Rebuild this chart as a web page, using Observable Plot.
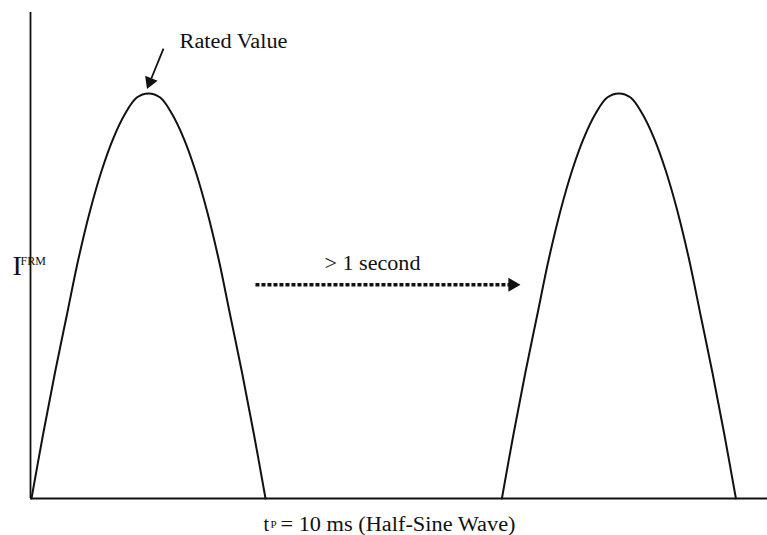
<!DOCTYPE html>
<html>
<head>
<meta charset="utf-8">
<script src="https://cdn.jsdelivr.net/npm/d3@7"></script>
<script src="https://cdn.jsdelivr.net/npm/@observablehq/plot@0.6"></script>
<style>
  html, body { margin: 0; padding: 0; background: #fff; }
  #chart { width: 767px; height: 535px; }
</style>
</head>
<body>
<div id="chart"></div>
<script>
// Time within one pulse (ms) and current relative to the rated value
const pulseTime = [0, 0.5, 1, 1.5, 2, 2.5, 3, 3.5, 4, 4.5, 5, 5.5, 6, 6.5, 7, 7.5, 8, 8.5, 9, 9.5, 10];
const pulseCurrent = [0, 0.16, 0.31, 0.45, 0.59, 0.71, 0.81, 0.89, 0.95, 0.99, 1.00, 0.99, 0.95, 0.89, 0.81, 0.71, 0.59, 0.45, 0.31, 0.16, 0];
// Start time of each pulse (ms, schematic axis)
const pulseStarts = [0, 20.1];
const pulseNames = ["first", "second"];

// Annotation texts
const labelRated = "Rated Value";
const labelGap = "> 1 second";
const labelAxisT = "t";
const labelAxisP = "P";
const labelAxisRest = "= 10 ms (Half-Sine Wave)";
const labelYMain = "I";
const labelYSub = "FRM";

const pulseData = pulseStarts.flatMap((s, k) =>
  pulseTime.map((t, j) => ({pulse: pulseNames[k], t: s + t, i: pulseCurrent[j]}))
);

const ink = "#111";
const serif = "'Liberation Serif', 'Times New Roman', serif";

const svg = Plot.plot({
  width: 767,
  height: 535,
  marginLeft: 31,
  marginRight: 0,
  marginTop: 12,
  marginBottom: 37,
  x: {domain: [0, 31.45], axis: null},
  y: {domain: [0, 1.2], axis: null},
  style: {background: "white", fontFamily: serif, color: ink},
  marks: [
    Plot.ruleX([0], {stroke: ink, strokeWidth: 1.8, dx: -1}),
    Plot.ruleY([0], {stroke: ink, strokeWidth: 1.8, x1: -0.04, x2: 31.45}),
    Plot.line(pulseData, {x: "t", y: "i", z: "pulse", stroke: ink, strokeWidth: 2, curve: "catmull-rom"}),
    // "> 1 second" dotted arrow
    Plot.link([{x1: 9.57, x2: 20.45, y: 0.528}], {x1: "x1", x2: "x2", y1: "y", y2: "y", stroke: ink, strokeWidth: 3.5, strokeDasharray: "4,2"}),
    Plot.dot([{x: 20.55, y: 0.528}], {x: "x", y: "y", symbol: "triangle", r: 5.2, fill: ink, stroke: "none", rotate: 90}),
    // Rated value arrow
    Plot.link([{x1: 5.64, y1: 1.111, x2: 5.12, y2: 1.037}], {x1: "x1", y1: "y1", x2: "x2", y2: "y2", stroke: ink, strokeWidth: 1.8}),
    Plot.dot([{x: 5.06, y: 1.029}], {x: "x", y: "y", symbol: "triangle", r: 5, fill: ink, stroke: "none", rotate: 202}),
    // texts
    Plot.text([labelRated], {x: 6.325, y: 1.129, text: d => d, textAnchor: "start", fontSize: 20, fill: ink, className: "st-rated"}),
    Plot.text([labelGap], {x: 12.52, y: 0.581, text: d => d, textAnchor: "start", fontSize: 20, fill: ink, className: "st-gap"}),
    Plot.text([labelAxisT], {x: 9.91, y: -0.0632, text: d => d, textAnchor: "start", fontSize: 20, fill: ink}),
    Plot.text([labelAxisP], {x: 10.21, y: -0.0647, text: d => d, textAnchor: "start", fontSize: 11, fill: ink}),
    Plot.text([labelAxisRest], {x: 10.64, y: -0.0632, text: d => d, textAnchor: "start", fontSize: 20, fill: ink, className: "st-axis"}),
    Plot.text([labelYMain], {x: -0.81, y: 0.573, text: d => d, textAnchor: "start", fontSize: 28, fill: ink}),
    Plot.text([labelYSub], {x: -0.47, y: 0.585, text: d => d, textAnchor: "start", fontSize: 12, fill: ink})
  ]
});

const stretch = {"st-rated": 108, "st-gap": 96, "st-axis": 235};
for (const [cls, len] of Object.entries(stretch)) {
  svg.querySelectorAll("." + cls + " text").forEach(t => {
    t.setAttribute("textLength", len);
    t.setAttribute("lengthAdjust", "spacingAndGlyphs");
  });
}

document.getElementById("chart").appendChild(svg);
</script>
</body>
</html>
